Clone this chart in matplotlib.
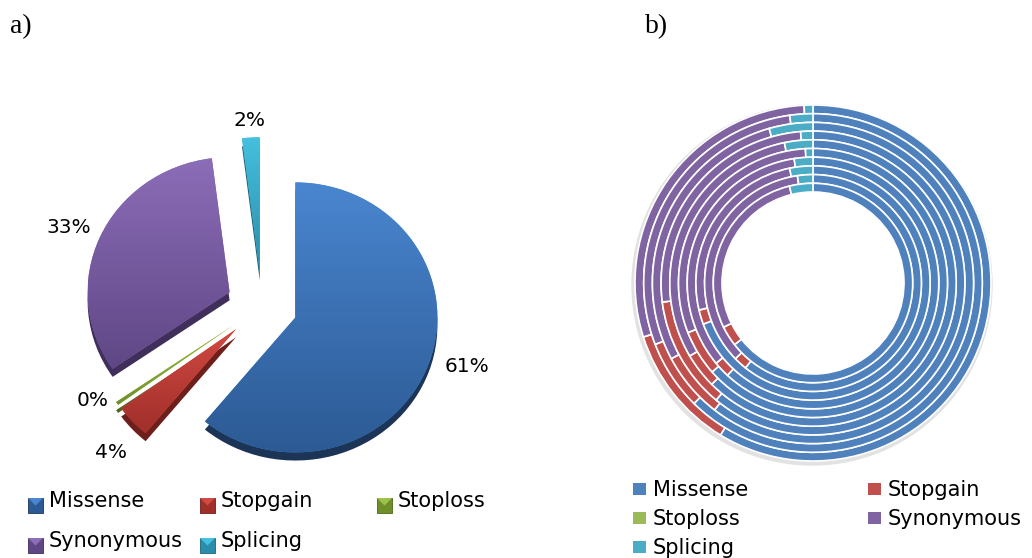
import numpy as np
import matplotlib.pyplot as plt
from matplotlib.colors import LinearSegmentedColormap
from matplotlib.patches import Rectangle, Circle, Polygon

plt.rcParams['font.family'] = ['DejaVu Sans']

W, H = 1032, 558

categories = ['Missense', 'Stopgain', 'Stoploss', 'Synonymous', 'Splicing']
pie_values = [61.0, 4.0, 0.4, 32.6, 2.0]

# shares per sample for the ring chart, outermost ring first
ring_missense   = [58.7, 62.4, 60.5, 61.0, 62.5, 63.5, 61.9, 69.3, 60.7, 64.4]
ring_stopgain   = [11.4, 6.7, 6.7, 12.0, 4.0, 5.5, 2.1, 2.0, 2.0, 3.3]
ring_stoploss   = [0, 0, 0, 0, 0, 0, 0, 0, 0, 0]
ring_synonymous = [29.1, 28.7, 28.4, 25.7, 30.3, 30.1, 33.6, 25.5, 35.0, 28.5]
ring_splicing   = [0.8, 2.2, 4.4, 1.3, 3.2, 0.9, 2.4, 3.2, 2.3, 3.8]

face_top    = ['#4A86D0', '#D24A43', '#9CC24A', '#8C6DB8', '#45C0DE']
face_bottom = ['#2C5A94', '#A02F2A', '#6E8F2A', '#5F4785', '#2A8DAB']
side_colors = ['#1C3456', '#6E1F1C', '#4E661C', '#3F2F5A', '#1C6478']
ring_colors = ['#4F81BD', '#C0504D', '#9BBB59', '#8064A2', '#4BACC6']

fig = plt.figure(figsize=(W / 100, H / 100), dpi=100)

# ---- a) exploded pie, one unit = pie radius
ax = fig.add_axes([0, 0, 1, 1])
cx, cy, rx, ry = 262, 306, 142, 135
explode = [0.25] * len(pie_values)

# darker copy shifted down gives the pie some thickness
ax.pie(pie_values, explode=explode, center=(0, -0.06), colors=side_colors,
       startangle=90, counterclock=False)
wedges, _, pct = ax.pie(pie_values, explode=explode, colors=face_top,
                        startangle=90, counterclock=False, autopct='%.0f%%',
                        textprops=dict(fontsize=14.5, color='black'))

grad = np.linspace(0, 1, 256).reshape(-1, 1)
for w, c0, c1 in zip(wedges, face_top, face_bottom):
    bb = w.get_path().get_extents()
    cmap = LinearSegmentedColormap.from_list('shade', [c0, c1])
    im = ax.imshow(grad, cmap=cmap, extent=(bb.x0, bb.x1, bb.y0, bb.y1),
                   aspect='auto', origin='upper', zorder=1.5)
    im.set_clip_path(w)

label_dist = [1.26, 1.27, 1.13, 1.23, 1.13]
label_turn = [-3, -3, 6, -1, 0]
for w, t, d, turn in zip(wedges, pct, label_dist, label_turn):
    a = np.deg2rad((w.theta1 + w.theta2) / 2 - turn)
    t.set_position((w.center[0] + d * np.cos(a), w.center[1] + d * np.sin(a)))
    t.set_zorder(3)

ax.set_aspect('auto')
ax.set_xlim(-cx / rx, (W - cx) / rx)
ax.set_ylim(-(H - cy) / ry, cy / ry)
ax.axis('off')

# ---- b) one ring per sample, pixel coordinates
bx = fig.add_axes([0, 0, 1, 1])


def up(y):
    return H - y


dcx, dcy = 813, up(283)
outer, step = 178, 8.7
inner = outer - 10 * step
# soft shadow around the outer edge only
bx.add_patch(Circle((dcx - 1, dcy - 2), outer + 2, color='#e2e2e2', zorder=0))
bx.add_patch(Circle((dcx, dcy), inner, color='white', zorder=0.5))
rings = zip(ring_missense, ring_stopgain, ring_stoploss, ring_synonymous, ring_splicing)
for i, shares in enumerate(rings):
    bx.pie(shares, radius=outer - i * step, center=(dcx, dcy), colors=ring_colors,
           startangle=90, counterclock=False,
           wedgeprops=dict(width=step, edgecolor='white', linewidth=1.2))

# legend of panel a: 3 columns, bevelled markers
col_x = [28, 200, 377]
row_base = [507, 547]
for k, name in enumerate(categories):
    r, c = divmod(k, 3)
    x, yb = col_x[c], row_base[r]
    bx.add_patch(Rectangle((x, up(yb + 6)), 15, 15, facecolor=face_bottom[k],
                           edgecolor=side_colors[k], linewidth=0.6))
    bx.add_patch(Polygon([(x, up(yb - 9)), (x + 15, up(yb - 9)), (x + 7.5, up(yb - 1.5))],
                         closed=True, facecolor=face_top[k], edgecolor='none'))
    bx.text(x + 21, up(yb), name, fontsize=15, va='baseline', ha='left')

# legend of panel b: 2 columns
col_xb = [633, 868]
row_base_b = [496, 525, 554]
for k, name in enumerate(categories):
    r, c = divmod(k, 2)
    x, yb = col_xb[c], row_base_b[r]
    bx.add_patch(Rectangle((x, up(yb - 1)), 13, 12.5, facecolor=ring_colors[k],
                           edgecolor='none'))
    bx.text(x + 20, up(yb), name, fontsize=15, va='baseline', ha='left')

bx.text(10, up(33), 'a)', family='Liberation Serif', fontsize=20, va='baseline')
bx.text(645, up(33), 'b)', family='Liberation Serif', fontsize=20, va='baseline')

bx.set_aspect('auto')
bx.set_xlim(0, W)
bx.set_ylim(0, H)
bx.axis('off')

fig.savefig('out.png', dpi=100)
